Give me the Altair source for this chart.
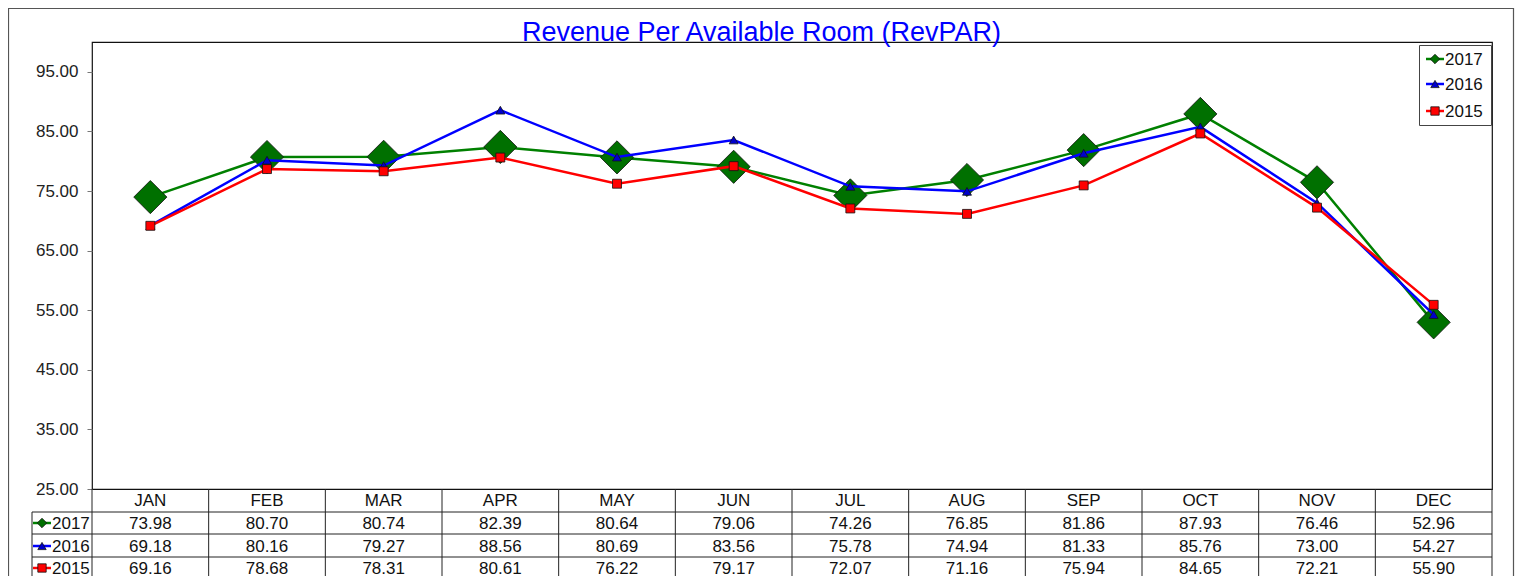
import altair as alt
import pandas as pd

months = ["JAN", "FEB", "MAR", "APR", "MAY", "JUN", "JUL", "AUG", "SEP", "OCT", "NOV", "DEC"]
years = ["2017", "2016", "2015"]
v2017 = [73.98, 80.70, 80.74, 82.39, 80.64, 79.06, 74.26, 76.85, 81.86, 87.93, 76.46, 52.96]
v2016 = [69.18, 80.16, 79.27, 88.56, 80.69, 83.56, 75.78, 74.94, 81.33, 85.76, 73.00, 54.27]
v2015 = [69.16, 78.68, 78.31, 80.61, 76.22, 79.17, 72.07, 71.16, 75.94, 84.65, 72.21, 55.90]
y_ticks = [25, 35, 45, 55, 65, 75, 85, 95]
title_text = "Revenue Per Available Room (RevPAR)"

series = {"2017": v2017, "2016": v2016, "2015": v2015}
line_colors = {"2017": "#008000", "2016": "#0000FF", "2015": "#FF0000"}
fill_colors = {"2017": "#007000", "2016": "#0000CC", "2015": "#FF0000"}
shapes = {"2017": "diamond", "2016": "triangle-up", "2015": "square"}
sizes = {"2017": 1100, "2016": 80, "2015": 80}

W, H = 1400, 447
FONT = "Liberation Sans"

df = pd.DataFrame(
    [{"month": m, "year": y, "value": v} for y in years for m, v in zip(months, series[y])]
)
mdf = pd.DataFrame({"month": months})

xscale = alt.Scale(type="band", domain=months, paddingInner=0, paddingOuter=0, round=False)
yscale = alt.Scale(domain=[25, 100], nice=False, zero=False)

X = alt.X("month:N", scale=xscale, axis=None)
Y = alt.Y(
    "value:Q",
    scale=yscale,
    axis=alt.Axis(
        values=y_ticks, format=".2f", title=None, grid=False, domain=False,
        tickSize=5, tickColor="#777", tickWidth=1, labelFontSize=17, labelFont=FONT,
        labelColor="#222", labelPadding=9,
    ),
)

layers = []
layers.append(
    alt.Chart(df).mark_point(opacity=0).encode(x=X, y=Y)
)
for y in years:
    d = df[df.year == y]
    layers.append(
        alt.Chart(d).mark_line(color=line_colors[y], strokeWidth=2.5).encode(
            x=X, y=alt.Y("value:Q", scale=yscale)
        )
    )
    layers.append(
        alt.Chart(d).mark_point(
            shape=shapes[y], filled=True, size=sizes[y], fill=fill_colors[y],
            stroke="#111", strokeWidth=0.8, opacity=1,
        ).encode(x=X, y=alt.Y("value:Q", scale=yscale))
    )

# title
layers.append(
    alt.Chart(pd.DataFrame({"t": [title_text]})).mark_text(
        font=FONT, fontSize=27, color="#0000FF", baseline="alphabetic", align="center"
    ).encode(x=alt.value(669.5), y=alt.value(-1.5), text="t:N")
)

# legend box
layers.append(
    alt.Chart(pd.DataFrame({"a": [0]})).mark_rect(
        fill="white", stroke="#444", strokeWidth=1
    ).encode(x=alt.value(1327.5), x2=alt.value(1399.5), y=alt.value(3.5), y2=alt.value(83.5))
)
leg_y = {"2017": 17, "2016": 42, "2015": 69}
row_y = {"2017": 481, "2016": 504, "2015": 526}
one = pd.DataFrame({"a": [0]})
for y in years:
    for (lx0, lx1, mx, tx, yy) in [(1334, 1352, 1343, 1353, leg_y[y]), (-59, -41, -50, -40, row_y[y])]:
        layers.append(
            alt.Chart(one).mark_rule(color=line_colors[y], strokeWidth=2.5).encode(
                x=alt.value(lx0), x2=alt.value(lx1), y=alt.value(yy)
            )
        )
        msize = 90 if y == "2017" else 70
        layers.append(
            alt.Chart(one).mark_point(
                shape=shapes[y], filled=True, size=msize, fill=fill_colors[y],
                stroke="#111", strokeWidth=0.8, opacity=1,
            ).encode(x=alt.value(mx), y=alt.value(yy))
        )
        layers.append(
            alt.Chart(pd.DataFrame({"t": [y]})).mark_text(
                font=FONT, fontSize=17, color="#111", align="left", baseline="middle"
            ).encode(x=alt.value(tx), y=alt.value(yy + 1), text="t:N")
        )

# data table
layers.append(
    alt.Chart(mdf).mark_text(font=FONT, fontSize=17, color="#111", baseline="middle").encode(
        x=X, y=alt.value(459), text="month:N"
    )
)
for y in years:
    d = df[df.year == y]
    layers.append(
        alt.Chart(d).mark_text(font=FONT, fontSize=17, color="#111", baseline="middle").encode(
            x=X, y=alt.value(row_y[y] + 1), text=alt.Text("value:Q", format=".2f")
        )
    )
layers.append(
    alt.Chart(mdf).mark_rule(color="#222", strokeWidth=1).encode(
        x=alt.X("month:N", scale=xscale, axis=None, bandPosition=0),
        y=alt.value(447), y2=alt.value(560),
    )
)
layers.append(
    alt.Chart(one).mark_rule(color="#222", strokeWidth=1).encode(
        x=alt.value(-60), y=alt.value(470), y2=alt.value(560)
    )
)
layers.append(
    alt.Chart(one).mark_rule(color="#222", strokeWidth=1).encode(
        x=alt.value(W), y=alt.value(447), y2=alt.value(560)
    )
)
for hy in [470, 492, 515, 537]:
    layers.append(
        alt.Chart(one).mark_rule(color="#222", strokeWidth=1).encode(
            x=alt.value(-60), x2=alt.value(W), y=alt.value(hy)
        )
    )
# outer frame
layers.append(
    alt.Chart(one).mark_rect(fill=None, stroke="#555", strokeWidth=1.2).encode(
        x=alt.value(-83.5), x2=alt.value(1421.5), y=alt.value(-33.5), y2=alt.value(600)
    )
)

chart = alt.layer(*layers).properties(
    width=W, height=H,
    autosize=alt.AutoSizeParams(type="none"),
    padding={"left": 84, "top": 34, "right": 23, "bottom": 87},
).configure_view(stroke="#111", strokeWidth=1.2)

chart.save("out.html", embed_options={"renderer": "svg", "actions": False})
